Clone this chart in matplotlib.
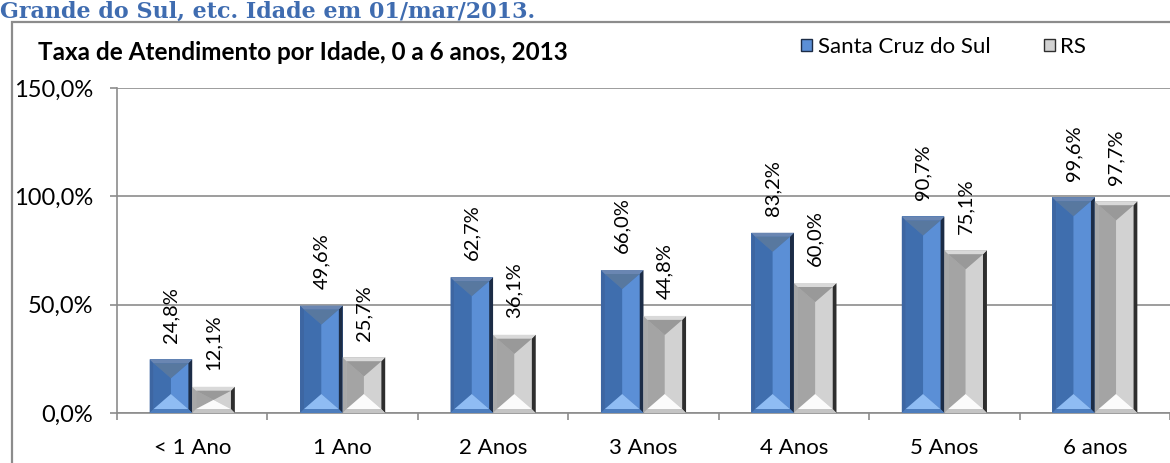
import matplotlib
matplotlib.use("Agg")
import matplotlib.pyplot as plt
from matplotlib.patches import Polygon, Rectangle, Patch
import numpy as np

# dados
categorias = ["< 1 Ano", "1 Ano", "2 Anos", "3 Anos", "4 Anos", "5 Anos", "6 anos"]
santa_cruz = [24.8, 49.6, 62.7, 66.0, 83.2, 90.7, 99.6]
rs = [12.1, 25.7, 36.1, 44.8, 60.0, 75.1, 97.7]
series_nomes = ["Santa Cruz do Sul", "RS"]
yticks = [0, 50, 100, 150]

plt.rcParams["font.family"] = ["Lato", "DejaVu Sans"]

W, H = 1170, 463
fig = plt.figure(figsize=(W / 100, H / 100), dpi=100)
ax = fig.add_axes([117 / W, 50 / H, 1053 / W, 325 / H])

# escala px -> dados
kx = 1 / 152
ky = 150 / 325

cores = {
    "azul": dict(base="#4a78b8", ftop="#6a86b2", fleft="#3d66a2", fright="#1c2c46",
                 fbot="#4d7dbd", ileft="#3f6eae", iright="#5b8fd6", itop="#58789f",
                 ibot="#8fbcf3"),
    "cinza": dict(base="#b8b8b8", ftop="#d9d9d9", fleft="#a8a8a8", fright="#2e2e2e",
                  fbot="#c4c4c4", ileft="#a4a4a4", iright="#d2d2d2", itop="#999999",
                  ibot="#fbfbfb"),
}


def bisel(ax, rect, c):
    x0 = rect.get_x()
    w = rect.get_width()
    h = rect.get_height()
    x1 = x0 + w
    y0, y1 = 0, h
    b = 4 * kx
    bv = min(4 * ky, h / 4)
    ix0, ix1 = x0 + b, x1 - b
    iy0, iy1 = y0 + bv, y1 - bv
    xc = (ix0 + ix1) / 2
    th = min(15 * ky, (iy1 - iy0) / 2)
    polys = [
        ([(x0, y0), (ix0, iy0), (ix0, iy1), (x0, y1)], c["fleft"]),
        ([(x1, y0), (ix1, iy0), (ix1, iy1), (x1, y1)], c["fright"]),
        ([(x0, y1), (x1, y1), (ix1, iy1), (ix0, iy1)], c["ftop"]),
        ([(x0, y0), (x1, y0), (ix1, iy0), (ix0, iy0)], c["fbot"]),
        ([(ix0, iy0), (xc, iy0 + th), (xc, iy1 - th), (ix0, iy1)], c["ileft"]),
        ([(ix1, iy0), (xc, iy0 + th), (xc, iy1 - th), (ix1, iy1)], c["iright"]),
        ([(ix0, iy1), (ix1, iy1), (xc, iy1 - th)], c["itop"]),
        ([(ix0, iy0), (ix1, iy0), (xc, iy0 + th)], c["ibot"]),
    ]
    for pts, cor in polys:
        ax.add_patch(Polygon(pts, closed=True, facecolor=cor, edgecolor="none", zorder=3))


x = np.arange(len(categorias))
larg = 43 * kx
b1 = ax.bar(x - larg / 2, santa_cruz, larg, color=cores["azul"]["base"], zorder=2)
b2 = ax.bar(x + larg / 2, rs, larg, color=cores["cinza"]["base"], zorder=2)

for barras, vals, nome in [(b1, santa_cruz, "azul"), (b2, rs, "cinza")]:
    for r, v in zip(barras, vals):
        bisel(ax, r, cores[nome])
        ax.annotate(f"{v:.1f}%".replace(".", ","), (r.get_x() + r.get_width() / 2, v),
                    xytext=(0, 12), textcoords="offset points", rotation=90,
                    ha="center", va="bottom", fontsize=14.5, color="black")

ax.set_xlim(-0.5, -0.5 + 1053 * kx)
ax.set_ylim(0, 150)
ax.set_yticks(yticks)
ax.set_yticklabels([f"{v:.1f}%".replace(".", ",") for v in yticks])
ax.set_xticks(x)
ax.set_xticklabels(categorias)
ax.set_xticks(np.arange(len(categorias) + 1) - 0.5, minor=True)
ax.tick_params(axis="x", which="major", length=0, pad=18, labelsize=16)
ax.tick_params(axis="x", which="minor", length=5, color="#8c8c8c", width=1.2)
ax.tick_params(axis="y", length=5, color="#8c8c8c", width=1.2, pad=12, labelsize=17)
ax.yaxis.grid(True, color="#8c8c8c", linewidth=1.2, zorder=0)
ax.set_axisbelow(True)
for s in ["top", "right"]:
    ax.spines[s].set_visible(False)
for s in ["left", "bottom"]:
    ax.spines[s].set_color("#8c8c8c")
    ax.spines[s].set_linewidth(1.2)

# moldura do grafico
fig.add_artist(Rectangle((12 / W, -0.05), 1.1, 1 - 22 / H + 0.05, transform=fig.transFigure,
                         fill=False, edgecolor="#8c8c8c", linewidth=1.6, clip_on=False))

fig.text(0, 1 - 1 / H, "Grande do Sul, etc. Idade em 01/mar/2013.", family="DejaVu Serif",
         fontweight="bold", fontsize=16, color="#3f6cb0", va="top", ha="left")
fig.text(38 / W, 1 - 53 / H, "Taxa de Atendimento por Idade, 0 a 6 anos, 2013",
         fontweight="bold", fontsize=17.5, va="center", ha="left")

handles = [Patch(facecolor=cores["azul"]["iright"], edgecolor=cores["azul"]["fright"]),
           Patch(facecolor=cores["cinza"]["iright"], edgecolor=cores["cinza"]["fright"])]
fig.legend(handles, series_nomes, loc="center left", bbox_to_anchor=(801 / W, 1 - 47 / H),
           ncol=2, frameon=False, fontsize=16, handlelength=0.5, handleheight=0.5,
           handletextpad=0.25, columnspacing=2.4, borderpad=0, borderaxespad=0)

fig.savefig("out.png", dpi=100)
